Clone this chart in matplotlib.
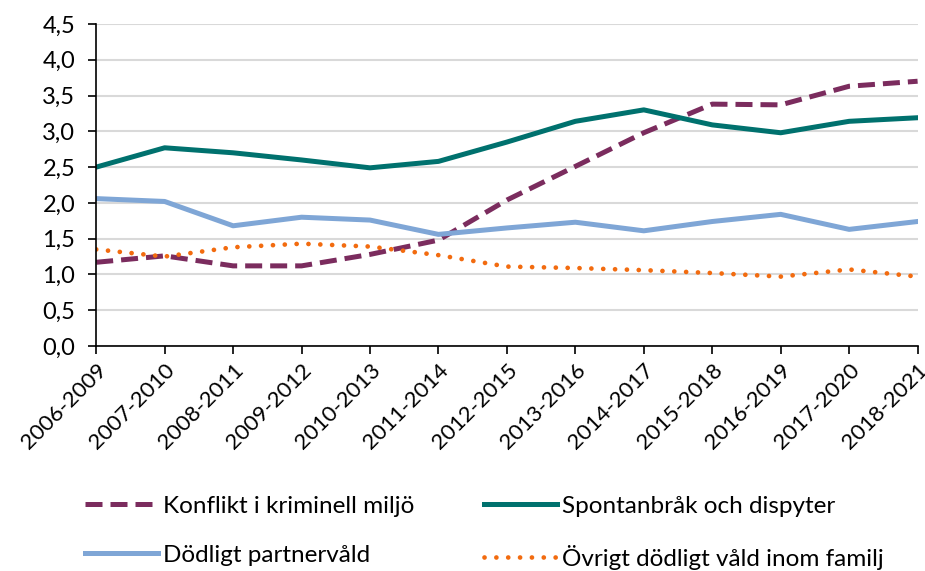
import matplotlib
matplotlib.use("Agg")
import matplotlib.pyplot as plt
from matplotlib.ticker import FuncFormatter

perioder = ["2006-2009", "2007-2010", "2008-2011", "2009-2012", "2010-2013",
            "2011-2014", "2012-2015", "2013-2016", "2014-2017", "2015-2018",
            "2016-2019", "2017-2020", "2018-2021"]

konflikt = [1.17, 1.26, 1.12, 1.12, 1.28, 1.48, 2.04, 2.51, 2.98, 3.38, 3.37, 3.63, 3.70]
spontan = [2.50, 2.77, 2.70, 2.60, 2.49, 2.58, 2.85, 3.14, 3.30, 3.09, 2.98, 3.14, 3.19]
partner = [2.06, 2.02, 1.68, 1.80, 1.76, 1.56, 1.65, 1.73, 1.61, 1.74, 1.84, 1.63, 1.74]
ovrigt = [1.35, 1.25, 1.38, 1.43, 1.39, 1.27, 1.11, 1.09, 1.06, 1.02, 0.97, 1.07, 0.97]

plt.rcParams['font.family'] = ['Lato', 'DejaVu Sans']

fig = plt.figure(figsize=(9.25, 5.71), dpi=100)
ax = fig.add_axes([0.104, 0.394, 0.888, 0.564])

x = range(len(perioder))
l1, = ax.plot(x, konflikt, color="#7B2C5E", lw=3.6, linestyle=(0, (3.4, 1.6)),
              label="Konflikt i kriminell miljö")
l2, = ax.plot(x, spontan, color="#00716E", lw=3.6, label="Spontanbråk och dispyter")
l3, = ax.plot(x, partner, color="#7FA6D6", lw=3.6, label="Dödligt partnervåld")
l4, = ax.plot(x, ovrigt, color="#F26B0F", lw=3.4, linestyle=(0, (0.01, 2.5)),
              dash_capstyle="round", label="Övrigt dödligt våld inom familj")

ax.set_xlim(0, len(perioder) - 1)
ax.set_ylim(0, 4.5)
ax.set_yticks([i * 0.5 for i in range(10)])
ax.yaxis.set_major_formatter(FuncFormatter(lambda v, p: f"{v:.1f}".replace(".", ",")))
ax.set_xticks(list(x))
ax.set_xticklabels(perioder, rotation=45, ha="right", rotation_mode="anchor")

ax.grid(axis="y", color="#D9D9D9", lw=1.5)
ax.set_axisbelow(True)
for s in ["top", "right"]:
    ax.spines[s].set_visible(False)
ax.spines["left"].set_linewidth(1.2)
ax.spines["bottom"].set_linewidth(1.2)
ax.tick_params(axis="both", length=6, width=1.2, color="black")
ax.tick_params(axis="x", labelsize=16, pad=4)
ax.tick_params(axis="y", labelsize=17, pad=9)

# ordning så att raderna blir som i originalet (fylls kolumnvis)
handles = [l1, l3, l2, l4]
fig.legend(handles, [h.get_label() for h in handles], loc="lower left",
           bbox_to_anchor=(0.068, -0.036), ncol=2, frameon=False, fontsize=17.5,
           handlelength=3.0, handletextpad=0.2, columnspacing=2.9,
           labelspacing=1.15)

fig.savefig("out.png", dpi=100)
